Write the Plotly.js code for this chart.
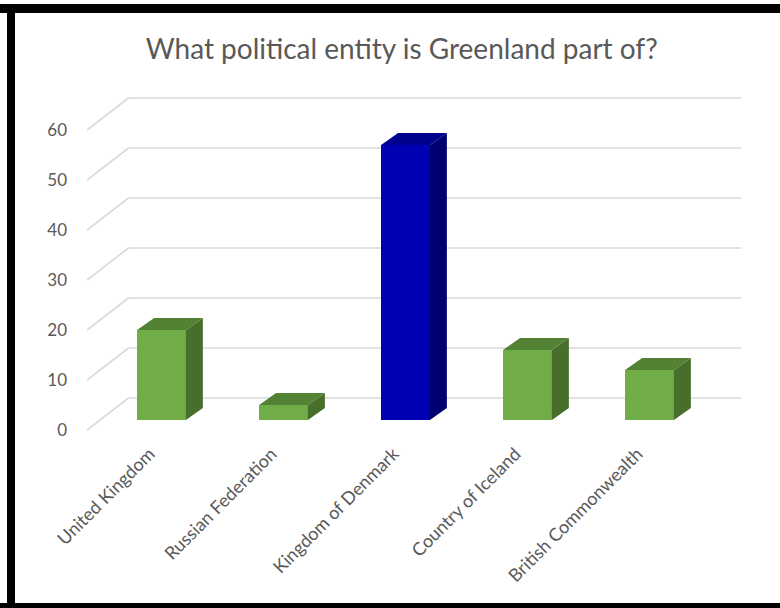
<!DOCTYPE html>
<html>
<head>
<meta charset="utf-8">
<script src="https://cdn.plot.ly/plotly-3.0.1.min.js"></script>
<style>
html,body{margin:0;padding:0;background:#fff;}
#chart{position:absolute;left:0;top:0;width:780px;height:608px;}
</style>
</head>
<body>
<div id="chart"></div>
<script>
// ---- data ----
const categories = ["United Kingdom", "Russian Federation", "Kingdom of Denmark", "Country of Iceland", "British Commonwealth"];
const values = [18, 3, 55, 14, 10];
const isAnswer = [false, false, true, false, false];
const tickValues = [0, 10, 20, 30, 40, 50, 60];
const tickLabels = ["0", "10", "20", "30", "40", "50", "60"];
const titleText = "What political entity is Greenland part of?";

// ---- styles / geometry (pseudo-3D) ----
const GREEN = {front: "#70AD47", top: "#548235", side: "#476F2B"};
const BLUE = {front: "#0000B4", top: "#00008E", side: "#000070"};
const BAR_W = 0.4;           // category units
const BAR_BASE = 2;          // bars sit a little behind the front axis
const SIDE_DX = 0.139;       // depth of a bar (category units)
const SIDE_DY = 2.4;         // depth of a bar (value units)
const WALL_DY = 6.4;         // depth of the back wall (value units)
const X_RANGE = [-0.6107, 4.75];
const WALL_X0 = -0.2705;     // where the back wall begins (category units)

const idx = categories.map((c, i) => i);
const traces = [];

// front faces
traces.push({
  type: "bar",
  x: idx,
  y: values,
  base: BAR_BASE,
  width: BAR_W,
  marker: {color: isAnswer.map(a => a ? BLUE.front : GREEN.front), line: {width: 0}},
  hoverinfo: "skip",
  showlegend: false
});

// side + top faces
values.forEach((v, i) => {
  const c = isAnswer[i] ? BLUE : GREEN;
  const xl = i - BAR_W / 2, xr = i + BAR_W / 2;
  const b = BAR_BASE, t = BAR_BASE + v;
  traces.push({
    type: "scatter", mode: "lines", fill: "toself",
    x: [xr, xr, xr + SIDE_DX, xr + SIDE_DX, xr],
    y: [b, t, t + SIDE_DY, b + SIDE_DY, b],
    line: {width: 0}, fillcolor: c.side, hoverinfo: "skip", showlegend: false
  });
  traces.push({
    type: "scatter", mode: "lines", fill: "toself",
    x: [xl, xr, xr + SIDE_DX, xl + SIDE_DX, xl],
    y: [t, t, t + SIDE_DY, t + SIDE_DY, t],
    line: {width: 0}, fillcolor: c.top, hoverinfo: "skip", showlegend: false
  });
});

// back-wall gridlines and side-wall diagonals
const shapes = [];
tickValues.forEach(v => {
  shapes.push({type: "line", xref: "x", yref: "y", layer: "below",
    x0: WALL_X0, x1: X_RANGE[1], y0: v + WALL_DY, y1: v + WALL_DY,
    line: {color: "#D9D9D9", width: 1.6}});
  shapes.push({type: "line", xref: "x", yref: "y", layer: "below",
    x0: X_RANGE[0], x1: WALL_X0, y0: v, y1: v + WALL_DY,
    line: {color: "#D9D9D9", width: 1.6}});
});

const layout = {
  width: 780, height: 608,
  margin: {l: 87, r: 39, t: 95, b: 176},
  paper_bgcolor: "#fff", plot_bgcolor: "rgba(0,0,0,0)",
  font: {family: "Lato, 'Open Sans', sans-serif", color: "#595959"},
  title: {text: titleText, x: 0.515, xanchor: "center", y: 0.919, yanchor: "middle",
    font: {size: 28, color: "#595959", family: "Lato, 'Open Sans', sans-serif"}},
  xaxis: {range: X_RANGE, tickmode: "array", tickvals: idx, ticktext: categories,
    tickangle: -45, showgrid: false, zeroline: false, showline: false, ticks: "",
    ticklabelstandoff: 7, ticklabelshift: -12,
    tickfont: {size: 18, color: "#595959"}, fixedrange: true},
  yaxis: {range: [-0.4, 67], tickmode: "array", tickvals: tickValues, ticktext: tickLabels,
    showgrid: false, zeroline: false, showline: false, ticks: "", ticklabelstandoff: 19,
    tickfont: {size: 17, color: "#595959"}, fixedrange: true},
  shapes: shapes,
  bargap: 0
};

Plotly.newPlot("chart", traces, layout, {displayModeBar: false, staticPlot: true});
</script>
<div style="position:absolute;left:0;top:4px;width:780px;height:9px;background:#000;"></div>
<div style="position:absolute;left:7px;top:4px;width:8px;height:604px;background:#000;"></div>
<div style="position:absolute;left:0;top:603px;width:780px;height:5px;background:#000;"></div>
</body>
</html>
